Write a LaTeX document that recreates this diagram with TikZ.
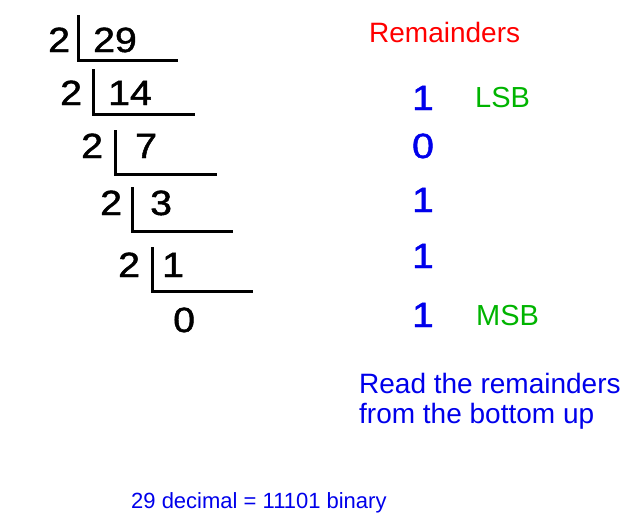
\documentclass[tikz,border=0pt]{standalone}
\usepackage{fontspec}
\setmainfont{Liberation Sans}
\newfontfamily\heavydig[RawFeature={embolden=1.3}]{Liberation Sans}
\definecolor{remblue}{RGB}{0,0,235}
\definecolor{remred}{RGB}{255,0,0}
\definecolor{remgreen}{RGB}{0,180,0}
\tikzset{
  dig/.style={font=\heavydig\fontsize{35}{40}\selectfont, inner sep=0pt, anchor=base west},
  bit/.style={font=\heavydig\fontsize{35}{40}\selectfont, inner sep=0pt, anchor=base, text=remblue},
  tag/.style={font=\fontsize{29}{34}\selectfont, inner sep=0pt, anchor=base west, text=remgreen},
  note/.style={font=\fontsize{28}{30}\selectfont, inner sep=0pt, anchor=base west, text=remblue},
  bracket/.style={line width=3pt},
}
\newcommand{\widedig}[1]{\scalebox{1.12}[1]{#1}}
\begin{document}
\begin{tikzpicture}[x=1pt,y=-1pt]
\useasboundingbox (0,0) rectangle (635,525);
% division rows
\node[dig] (d1) at (48,52) {\widedig{2}};
\node[dig] (q1) at (93,52) {\widedig{29}};
\node[dig] (d2) at (60,105) {\widedig{2}};
\node[dig] (q2) at (108,105) {\widedig{14}};
\node[dig] (d3) at (81,158) {\widedig{2}};
\node[dig] (q3) at (135,158) {\widedig{7}};
\node[dig] (d4) at (100,215) {\widedig{2}};
\node[dig] (q4) at (150,215) {\widedig{3}};
\node[dig] (d5) at (118,277) {\widedig{2}};
\node[dig] (q5) at (162,277) {\widedig{1}};
\node[dig] (q6) at (173,332) {\widedig{0}};
% brackets
\draw[bracket] (78,15) -- (78,60) -- (178,60);
\draw[bracket] (93,69) -- (93,114) -- (195,114);
\draw[bracket] (115,130) -- (115,174) -- (217,174);
\draw[bracket] (132,187) -- (132,231) -- (233,231);
\draw[bracket] (152,247) -- (152,291) -- (253,291);
% remainders
\node[font=\fontsize{28}{32}\selectfont, inner sep=0pt, anchor=base west, text=remred] (title) at (369,42) {Remainders};
\node[bit] (r1) at (423,110) {\widedig{1}};
\node[bit] (r2) at (423,158) {\widedig{0}};
\node[bit] (r3) at (423,212) {\widedig{1}};
\node[bit] (r4) at (423,268) {\widedig{1}};
\node[bit] (r5) at (423,327) {\widedig{1}};
\node[tag] (lsb) at (475,107) {LSB};
\node[tag] (msb) at (476,325) {MSB};
\node[note] (read1) at (359,393) {Read the remainders};
\node[note] (read2) at (359,423) {from the bottom up};
\node[font=\fontsize{22}{24}\selectfont, inner sep=0pt, anchor=base west, text=remblue] (result) at (131,508) {29 decimal = 11101 binary};
\end{tikzpicture}
\end{document}
